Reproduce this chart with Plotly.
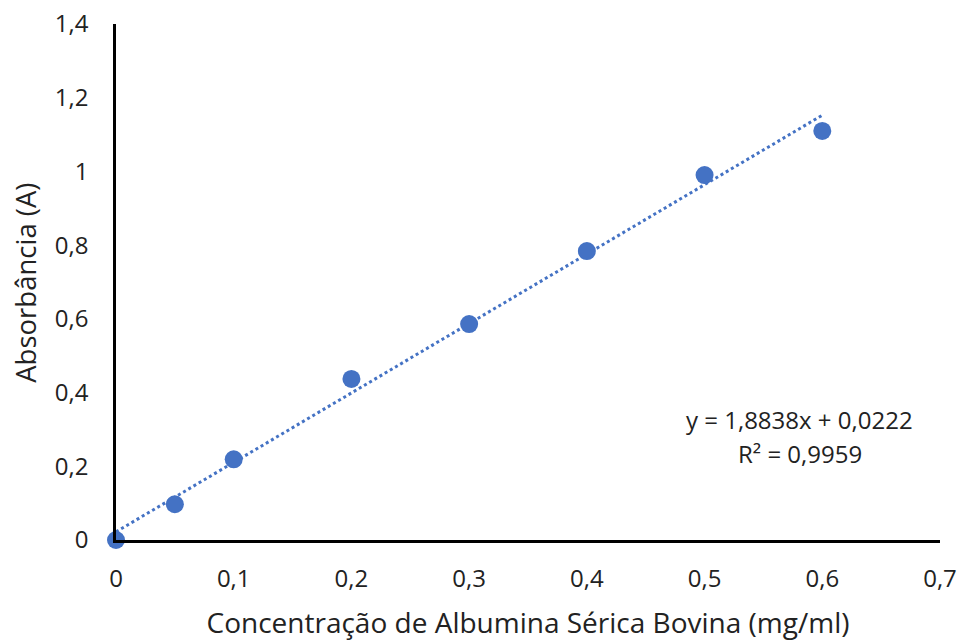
import plotly.graph_objects as go

conc = [0, 0.05, 0.1, 0.2, 0.3, 0.4, 0.5, 0.6]
absorb = [0.0, 0.097, 0.219, 0.437, 0.586, 0.784, 0.99, 1.11]
slope = 1.8838
intercept = 0.0222
r2 = 0.9959
trend_x = [0, 0.6]
trend_y = [slope * x + intercept for x in trend_x]
eq_text = "y = 1,8838x + 0,0222"
r2_text = "R² = 0,9959"
x_title = "Concentração de Albumina Sérica Bovina (mg/ml)"
y_title = "Absorbância (A)"

fig = go.Figure()
fig.add_trace(go.Scatter(x=trend_x, y=trend_y, mode="lines",
                         line=dict(color="#4472C4", width=3, dash="dot"),
                         hoverinfo="skip", showlegend=False))
fig.add_trace(go.Scatter(x=conc, y=absorb, mode="markers",
                         marker=dict(color="#4472C4", size=18),
                         showlegend=False, cliponaxis=False))

fig.add_annotation(x=0.8290, y=0.2326, xref="paper", yref="paper",
                   text=eq_text, showarrow=False, xanchor="center", yanchor="middle",
                   font=dict(size=24, color="#222222"))
fig.add_annotation(x=0.8300, y=0.1686, xref="paper", yref="paper",
                   text=r2_text, showarrow=False, xanchor="center", yanchor="middle",
                   font=dict(size=24, color="#222222"))
fig.add_annotation(x=-0.1092, y=0.4985, xref="paper", yref="paper",
                   text=y_title, showarrow=False, textangle=-90,
                   xanchor="center", yanchor="middle",
                   font=dict(size=27.5, color="#222222"))

fig.update_layout(
    width=960, height=641,
    margin=dict(l=116, r=20, t=24, b=101),
    paper_bgcolor="white", plot_bgcolor="white",
    separators=",.",
    font=dict(family="Open Sans, Noto Sans, sans-serif", size=20, color="#222222"),
    showlegend=False,
)
fig.update_xaxes(range=[0, 0.7], dtick=0.1, tick0=0, showgrid=False, zeroline=False,
                 showline=True, linecolor="black", linewidth=2.5, automargin=False,
                 ticks="outside", ticklen=0, ticklabelstandoff=15,
                 tickfont=dict(size=24, color="#222222"),
                 title=dict(text=x_title,
                            font=dict(size=28, color="#222222"), standoff=22))
fig.update_yaxes(range=[0, 1.4], dtick=0.2, tick0=0, showgrid=False, zeroline=False,
                 showline=True, linecolor="black", linewidth=2.5, automargin=False,
                 ticks="outside", ticklen=0, ticklabelstandoff=20,
                 tickfont=dict(size=24, color="#222222"))

fig.write_html("out.html", config={"displayModeBar": False},
               post_script="document.body.style.margin='0';document.body.style.overflow='hidden';")
